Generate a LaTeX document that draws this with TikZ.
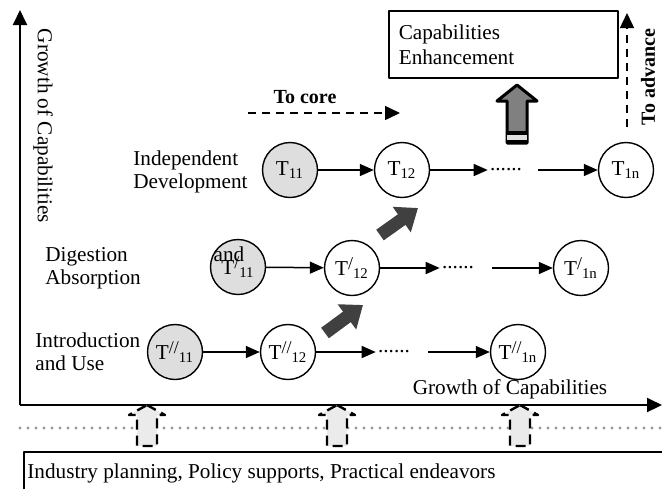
\documentclass[tikz,border=0pt]{standalone}
\usepackage{fontspec}
\setmainfont{Liberation Serif}
\usetikzlibrary{arrows.meta,positioning}
\definecolor{seedgray}{gray}{0.87}
\definecolor{pushgray}{gray}{0.92}
\definecolor{fatgray}{gray}{0.25}
\definecolor{upgray}{gray}{0.5}
\definecolor{dotgray}{gray}{0.6}
\newcommand{\tlab}[2]{T\raisebox{0.3em}{\fontsize{9}{9}\selectfont #1}\textsubscript{#2}}
\begin{document}
\begin{tikzpicture}[x=0.5pt, y=-0.5pt, font=\fontsize{10.6}{11.5}\selectfont, line join=round,
  >={Triangle[length=7pt,width=6pt]},
  tnode/.style={circle, draw, line width=0.7pt, minimum size=27.5pt, inner sep=0pt},
  seed/.style={tnode, fill=seedgray},
  lbl/.style={align=left, inner sep=0pt, anchor=west},
  dots/.style={inner xsep=1pt, inner ysep=0pt},
  link/.style={->, line width=0.75pt},
  hint/.style={-{Triangle[length=7.5pt,width=7pt]}, line width=0.75pt, dash pattern=on 4pt off 3pt},
  axis/.style={-{Triangle[length=7.5pt,width=7pt]}, line width=1pt},
  fat/.style={draw=fatgray, line width=6.5pt, -{Triangle[length=10pt,width=15pt]}},
  push/.style={line width=1.2pt, dash pattern=on 5pt off 3pt, fill=pushgray},
  bold/.style={font=\fontsize{10}{12}\selectfont\bfseries}]
\useasboundingbox (0,0) rectangle (662,489);
% axes
\coordinate (o) at (20,405);
\coordinate (ytip) at (20,10);
\coordinate (xtip) at (662,405);
\draw[axis] (o) -- (ytip);
\draw[axis] (o) -- (xtip);
\node[rotate=-90] (ylab) at (43,126) {Growth of Capabilities};
\node (xlab) at (510,389) {Growth of Capabilities};
% supports from below
\draw[dotgray, line width=1.7pt, line cap=round, dash pattern=on 0pt off 4pt] (20,428) -- (662,428);
\foreach \c in {147,337,520}
  \draw[push] (\c,405) -- ({\c+18},415) -- ({\c+10},415) -- ({\c+10},446)
    -- ({\c-10},446) -- ({\c-10},415) -- ({\c-18},415) -- cycle;
\draw[line width=1pt] (24,489) -- (24,452) -- (662,452);
\node[inner sep=0pt, anchor=base west] (base) at (27,478) {Industry planning, Policy supports, Practical endeavors};
% stages
\node[lbl] (indep) at (133,172) {Independent\\Development};
\node[lbl] (digest) at (45,268) {Digestion\\Absorption};
\node[lbl] (intro) at (35,352) {Introduction\\and Use};
% top row
\node[seed] (t11) at (290,170) {\tlab{}{11}};
\node[tnode] (t12) at (402,170) {\tlab{}{12}};
\node[dots] (dots1) at (506,170) {......};
\node[tnode] (t1n) at (626,170) {\tlab{}{1n}};
\draw[link] (t11) -- (t12);
\draw[link] (t12) -- (dots1);
\draw[link, shorten <=7pt] (dots1) -- (t1n);
% middle row
\node[seed] (tp11) at (238,267) {\tlab{/}{11}};
\node[inner sep=0pt] (and) at (229,254) {and};
\node[tnode] (tp12) at (352,268) {\tlab{/}{12}};
\node[dots] (dots2) at (458,268) {......};
\node[tnode] (tp1n) at (581,268) {\tlab{/}{1n}};
\draw[link] (tp11) -- (tp12);
\draw[link] (tp12) -- (dots2);
\draw[link, shorten <=8pt] (dots2) -- (tp1n);
% bottom row
\node[seed] (tpp11) at (175,352) {\tlab{//}{11}};
\node[tnode] (tpp12) at (288,352) {\tlab{//}{12}};
\node[dots] (dots3) at (394,352) {......};
\node[tnode] (tpp1n) at (518,352) {\tlab{//}{1n}};
\draw[link] (tpp11) -- (tpp12);
\draw[link] (tpp12) -- (dots3);
\draw[link, shorten <=8pt] (dots3) -- (tpp1n);
% moving up a stage
\coordinate (up1a) at (325,333); \coordinate (up1b) at (363,305);
\coordinate (up2a) at (380,235); \coordinate (up2b) at (418,208);
\draw[fat] (up1a) -- (up1b);
\draw[fat] (up2a) -- (up2b);
% to core / to advance
\node[bold] (core) at (305,97) {To core};
\coordinate (coreA) at (248,113); \coordinate (coreB) at (400,113);
\draw[hint] (coreA) -- (coreB);
\node[bold, rotate=90] (adv) at (648,77) {To advance};
\coordinate (advA) at (627,127); \coordinate (advB) at (627,13);
\draw[hint] (advA) -- (advB);
% enhancement
\node[draw, line width=0.8pt, anchor=north west, minimum width=114.5pt, minimum height=33.5pt,
  text width=104.5pt, inner xsep=5pt, align=left, font=\fontsize{10.6}{12.5}\selectfont]
  (cap) at (388,10) {Capabilities\\Enhancement};
\draw[line width=1.5pt, fill=upgray] (517,85) -- (537,101) -- (527,101) -- (527,143)
  -- (507,143) -- (507,101) -- (497,101) -- cycle;
\fill[gray!25] (507,134) rectangle (527,140);
\draw[line width=2pt] (507,133) -- (527,133) (507,142) -- (527,142);
\end{tikzpicture}
\end{document}
